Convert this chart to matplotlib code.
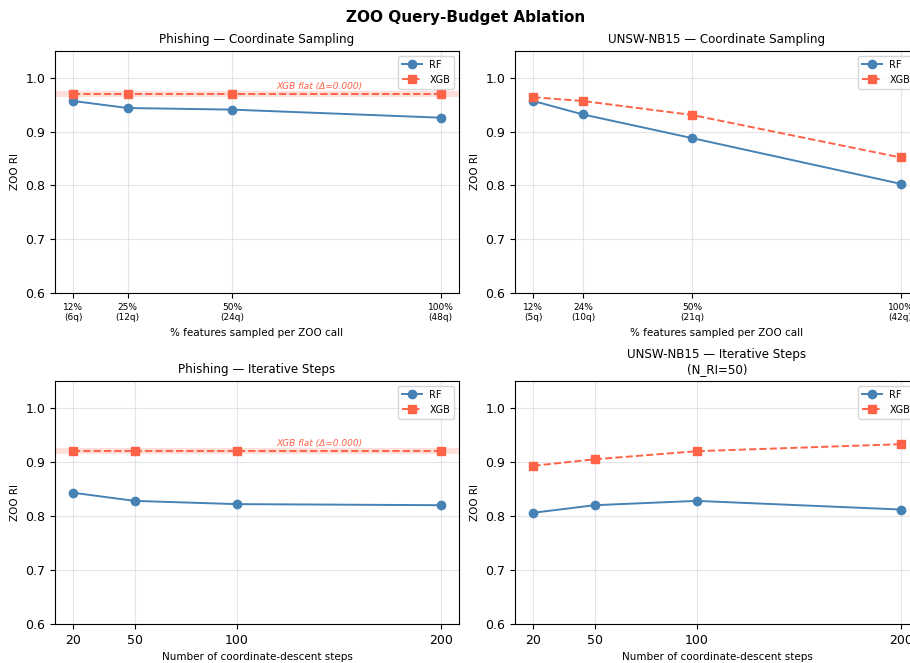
import matplotlib
matplotlib.use("Agg")
import matplotlib.pyplot as plt

# ---- data ----
phish_frac = [12, 25, 50, 100]
phish_frac_labels = ["12%\n(6q)", "25%\n(12q)", "50%\n(24q)", "100%\n(48q)"]
phish_frac_rf = [0.957, 0.944, 0.941, 0.926]
phish_frac_xgb = [0.970, 0.970, 0.970, 0.970]

unsw_frac = [11.9, 23.8, 50, 100]
unsw_frac_labels = ["12%\n(5q)", "24%\n(10q)", "50%\n(21q)", "100%\n(42q)"]
unsw_frac_rf = [0.957, 0.932, 0.888, 0.803]
unsw_frac_xgb = [0.964, 0.957, 0.931, 0.852]

steps = [20, 50, 100, 200]
phish_steps_rf = [0.843, 0.828, 0.822, 0.820]
phish_steps_xgb = [0.920, 0.920, 0.920, 0.920]
unsw_steps_rf = [0.806, 0.820, 0.828, 0.812]
unsw_steps_xgb = [0.893, 0.905, 0.920, 0.933]

RF_C = "#4682B4"
XGB_C = "#FF6347"

fig = plt.figure(figsize=(9.1, 6.63), dpi=100)
W, H = 910, 663

def ax_at(x0, y_top, w, h):
    return fig.add_axes([x0 / W, 1 - (y_top + h) / H, w / W, h / H])

ax1 = ax_at(55, 51, 404, 242)
ax2 = ax_at(515, 51, 404, 242)
ax3 = ax_at(55, 381, 404, 243)
ax4 = ax_at(515, 381, 404, 243)

panels = [
    (ax1, phish_frac, phish_frac_rf, phish_frac_xgb, "Phishing — Coordinate Sampling",
     "% features sampled per ZOO call", phish_frac_labels, True),
    (ax2, unsw_frac, unsw_frac_rf, unsw_frac_xgb, "UNSW-NB15 — Coordinate Sampling",
     "% features sampled per ZOO call", unsw_frac_labels, False),
    (ax3, steps, phish_steps_rf, phish_steps_xgb, "Phishing — Iterative Steps",
     "Number of coordinate-descent steps", [str(s) for s in steps], True),
    (ax4, steps, unsw_steps_rf, unsw_steps_xgb, "UNSW-NB15 — Iterative Steps\n(N_RI=50)",
     "Number of coordinate-descent steps", [str(s) for s in steps], False),
]

for i, (ax, x, rf, xgb, title, xlabel, xtl, flat) in enumerate(panels):
    ax.plot(x, rf, "-o", color=RF_C, lw=1.4, ms=6, label="RF")
    ax.plot(x, xgb, "--s", color=XGB_C, lw=1.4, ms=6, label="XGB")
    if flat:
        ax.axhspan(xgb[0] - 0.006, xgb[0] + 0.006, color=XGB_C, alpha=0.2, lw=0)
        ax.text(0.655, xgb[0] + 0.006, "XGB flat (Δ=0.000)", transform=ax.get_yaxis_transform(),
                ha="center", va="bottom", fontsize=6.5, style="italic", color=XGB_C)
    ax.set_ylim(0.6, 1.05)
    ax.set_yticks([0.6, 0.7, 0.8, 0.9, 1.0])
    ax.set_xticks(x)
    if i < 2:
        ax.set_xticklabels(xtl, fontsize=6.5)
    else:
        ax.set_xticklabels(xtl, fontsize=9)
    ax.tick_params(axis="y", labelsize=9)
    ax.set_title(title, fontsize=8.6)
    ax.set_xlabel(xlabel, fontsize=7.5)
    ax.set_ylabel("ZOO RI", fontsize=7.5)
    ax.grid(True, color="#cccccc", alpha=0.5, lw=0.8)
    ax.legend(loc="upper right", fontsize=7)

fig.suptitle("ZOO Query-Budget Ablation", fontsize=11, fontweight="bold", x=0.5115, y=0.985)
fig.savefig("out.png", dpi=100)
